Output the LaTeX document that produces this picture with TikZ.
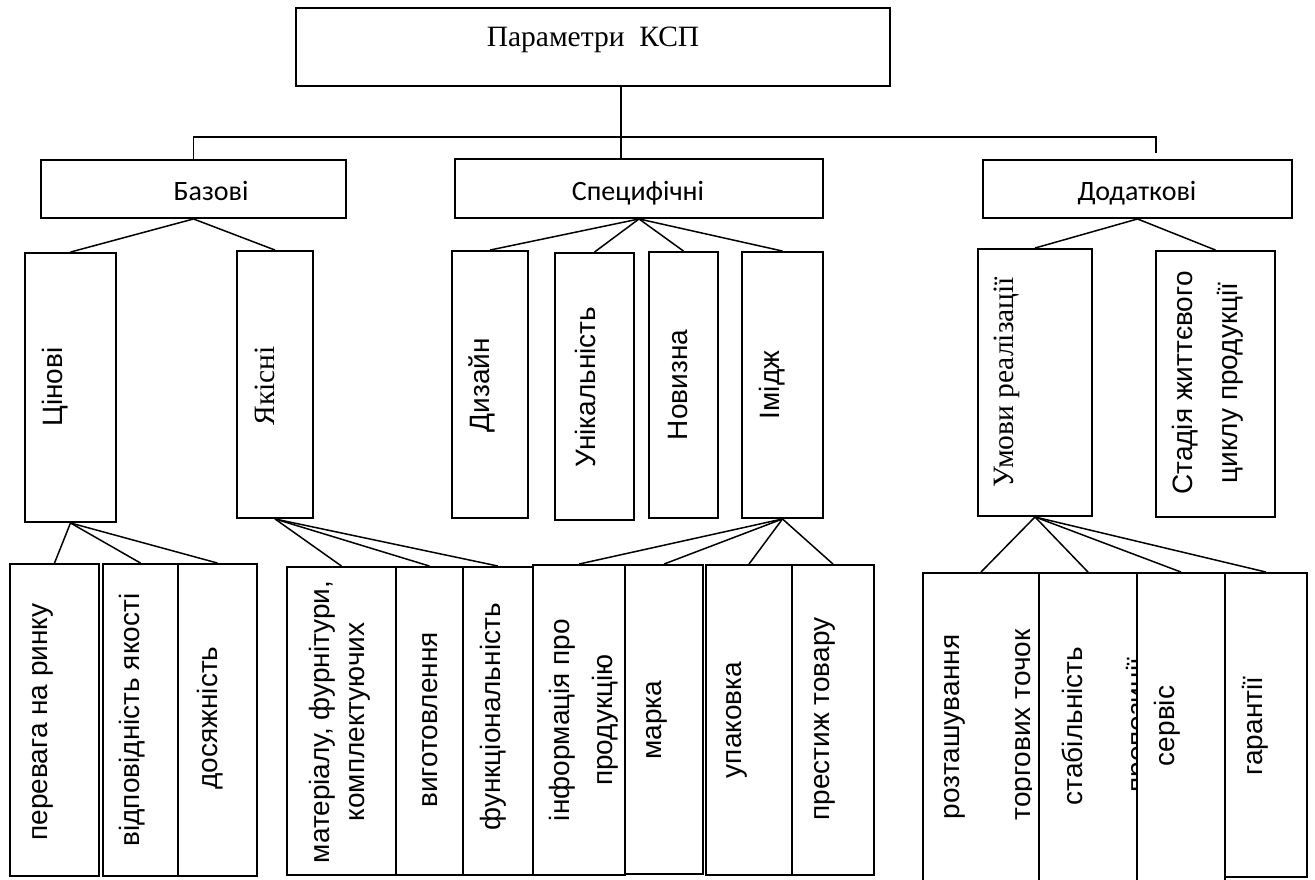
\documentclass[tikz,border=0pt]{standalone}
\usepackage{fontspec}
\setmainfont{Liberation Serif}
\newfontfamily\arialf{Liberation Sans}
\newfontfamily\calf{Carlito}
\usetikzlibrary{fit}
\begin{document}
\begin{tikzpicture}[x=1pt,y=-1pt,
  box/.style={draw, line width=1.9pt, inner sep=0pt, fit={#1}},
  conn/.style={line width=1.5pt},
  vt/.style={inner sep=0pt, rotate=90, font=\arialf\fontsize{28}{34}\selectfont},
  vser/.style={inner sep=0pt, rotate=90, font=\fontsize{29.5}{35}\selectfont},
  hser/.style={inner sep=0pt, anchor=base, font=\fontsize{29.5}{35}\selectfont},
  hc/.style={inner sep=0pt, anchor=base, font=\calf\fontsize{28}{34}\selectfont}]
\fill[white] (0,0) rectangle (1315,879);
\clip (0,0) rectangle (1315,879);

% level 0
\node[box={(296,8)(890,86)}] (top) {};
\node[hser] (ttop) at (593,46) {Параметри\ \ КСП};

% level 1
\node[box={(41,160)(346,218)}] (baz) {};
\node[hc] (tbaz) at (211,200) {Базові};
\node[box={(455,159)(823,218)}] (spec) {};
\node[hc] (tspec) at (638,200) {Специфічні};
\node[box={(983,160)(1292,218)}] (dod) {};
\node[hc] (tdod) at (1137,200) {Додаткові};

\coordinate (barR) at (1156,137);
\coordinate (dodEnd) at (1156,153);
\draw[conn] ([xshift=28pt]top.south) -- ([xshift=-18pt]spec.north);
\draw[conn] (baz.north) |- (barR) -- (dodEnd);

% level 2
\node[box={(25,253)(116,522)}] (tsin) {};
\node[vt] at (55,387) {Цінові};
\node[box={(237,251)(313,518)}] (yak) {};
\node[vser] at (265,386) {Якісні};
\node[box={(452,251)(528,518)}] (dyz) {};
\node[vt] at (482,385) {Дизайн};
\node[box={(555,253)(634,520)}] (unik) {};
\node[vt] at (585,387) {Унікальність};
\node[box={(649,252)(718,518)}] (nov) {};
\node[vt] at (678,385) {Новизна};
\node[box={(742,252)(823,518)}] (imid) {};
\node[vt] at (772,385) {Імідж};
\node[box={(978,249)(1092,516)}] (umov) {};
\node[vser] at (1007,382) {Умови реалізації};
\node[box={(1156,251)(1275,517)}] (stad) {};
\node[vt] at (1185,383) {Стадія життєвого};
\node[vt] at (1230,383) {циклу продукції};

\draw[conn] (baz.south) -- (tsin.north);
\draw[conn] (baz.south) -- (yak.north);
\draw[conn] (spec.south) -- (dyz.north);
\draw[conn] (spec.south) -- (unik.north);
\draw[conn] (spec.south) -- (nov.north);
\draw[conn] (spec.south) -- (imid.north);
\draw[conn] (dod.south) -- (umov.north);
\draw[conn] (dod.south) -- (stad.north);

% level 3
\node[box={(10,564)(99,876)}] (perev) {};
\node[vt] at (43,722) {перевага на ринку};
\node[box={(103,564)(178,876)}] (vidp) {};
\node[vt] at (132,720) {відповідність якості};
\node[box={(178,564)(257,876)}] (dos) {};
\node[vt] at (210,718) {досяжність};

\node[box={(287,567)(396,875)}] (mat) {};
\node[vt] at (322,722) {матеріалу, фурнітури,};
\node[vt] at (360,722) {комплектуючих};
\node[box={(396,567)(463,875)}] (vyh) {};
\node[vt] at (430,720) {виготовлення};
\node[box={(463,567)(533,875)}] (funk) {};
\node[vt] at (493,717) {функціональність};
\node[box={(533,565)(625,875)}] (info) {};
\node[vt] at (562,720) {інформація про};
\node[vt] at (605,720) {продукцію};
\node[box={(625,565)(703,874)}] (mark) {};
\node[vt] at (657,720) {марка};
\node[box={(706,565)(792,875)}] (upak) {};
\node[vt] at (737,720) {упаковка};
\node[box={(792,565)(874,875)}] (prest) {};
\node[vt] at (825,719) {престиж товару};

\node[box={(923,573)(1039,895)}] (rozt) {};
\node[vt] at (955,727) {розташування};
\begin{scope}
  \clip (990,560) rectangle (1031,879);
  \node[vt] at (1026,725) {торгових точок};
\end{scope}
\node[box={(1039,573)(1137,895)}] (stab) {};
\node[vt] at (1072,726) {стабільність};
\begin{scope}
  \clip (1100,560) rectangle (1135,879);
  \node[vt] at (1139.5,725) {пропозиції};
\end{scope}
\node[box={(1137,573)(1225,895)}] (serv) {};
\node[vt] at (1167,726) {сервіс};
\node[box={(1225,573)(1307,877)}] (har) {};
\node[vt] at (1255,726) {гарантії};

\draw[conn] (tsin.south) -- (perev.north);
\draw[conn] (tsin.south) -- (vidp.north);
\draw[conn] (tsin.south) -- (dos.north);
\draw[conn] (yak.south) -- (mat.north);
\draw[conn] (yak.south) -- (vyh.north);
\draw[conn] (yak.south) -- (funk.north);
\draw[conn] (imid.south) -- (info.north);
\draw[conn] (imid.south) -- (mark.north);
\draw[conn] (imid.south) -- (upak.north);
\draw[conn] (imid.south) -- (prest.north);
\draw[conn] (umov.south) -- (rozt.north);
\draw[conn] (umov.south) -- (stab.north);
\draw[conn] (umov.south) -- (serv.north);
\draw[conn] (umov.south) -- (har.north);
\end{tikzpicture}
\end{document}
